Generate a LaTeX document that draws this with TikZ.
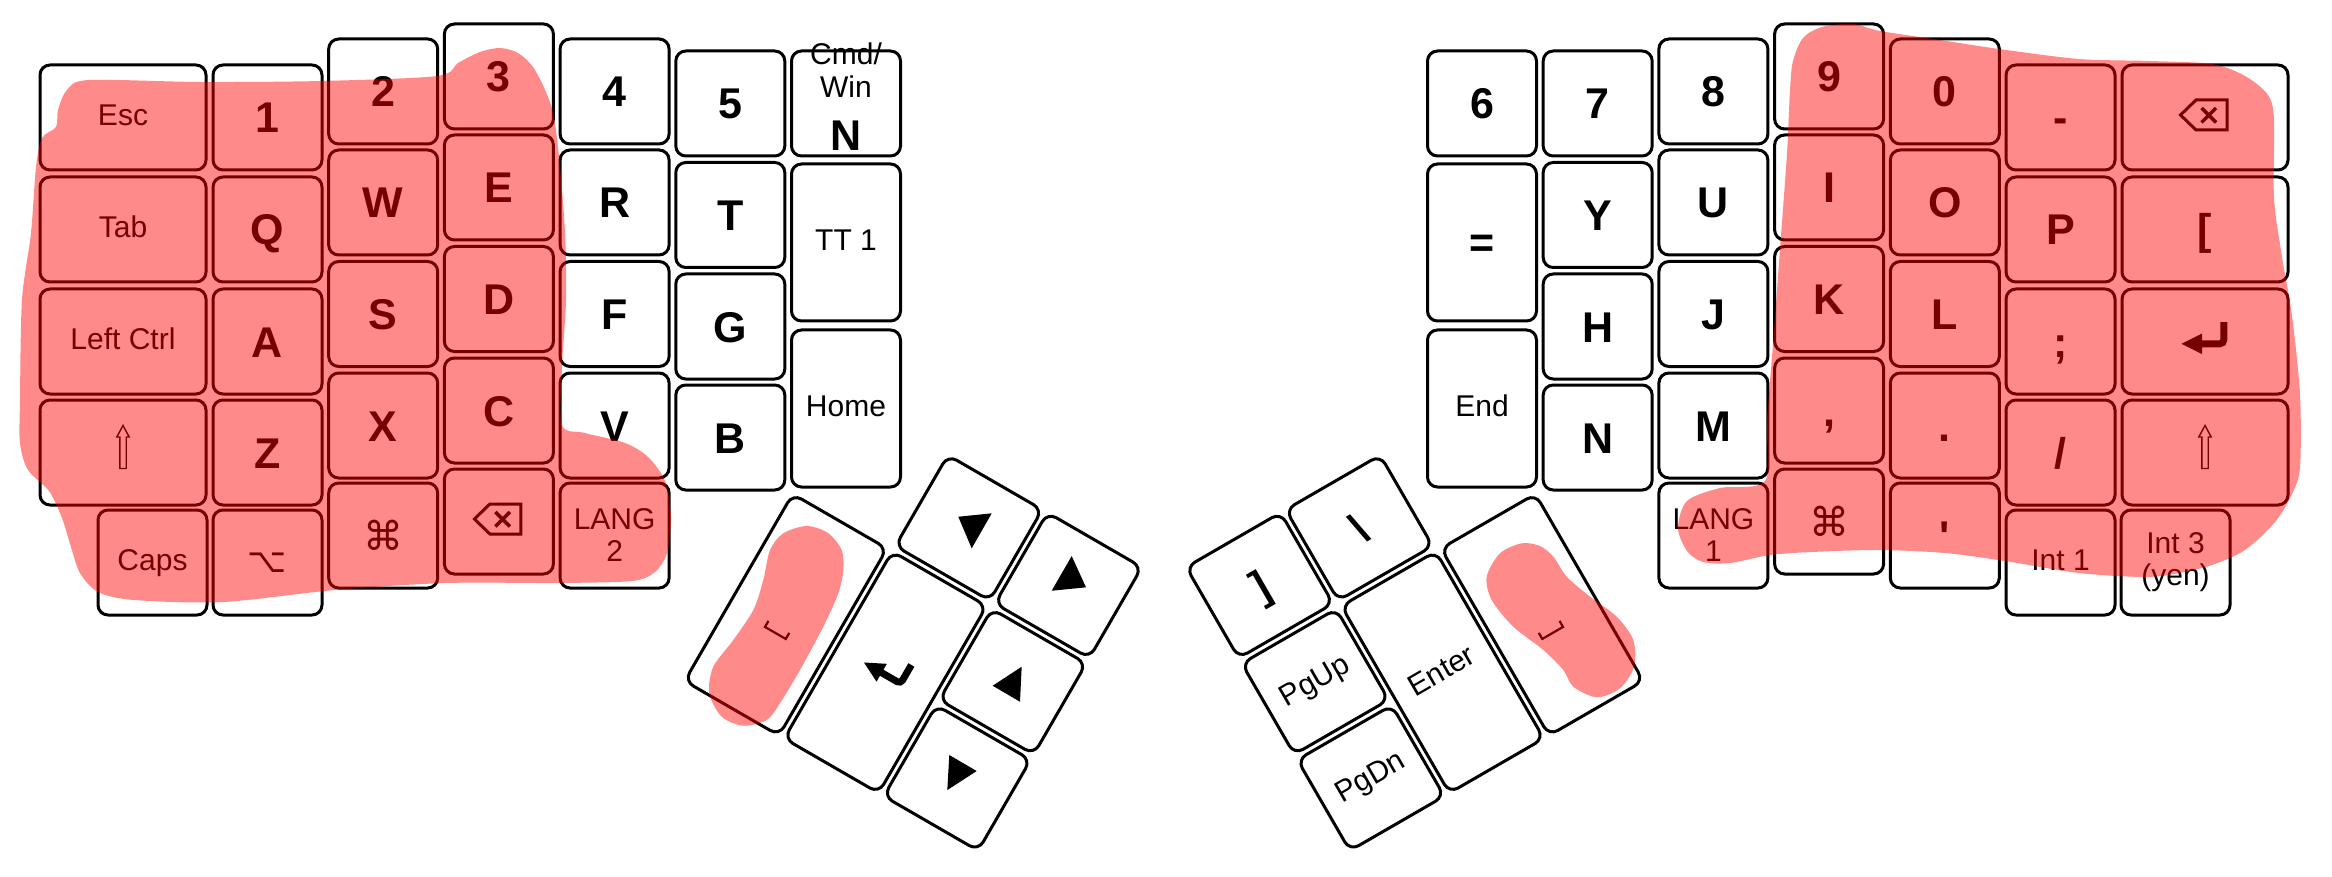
\documentclass[tikz,border=0pt]{standalone}
\usepackage{fontspec}
\setmainfont{Liberation Sans}
\newfontfamily\symf{DejaVu Sans}
\newcommand{\kbig}{\fontsize{43}{48}\selectfont\bfseries}
\newcommand{\ksmall}{\fontsize{30}{32}\selectfont}
\newcommand{\ksym}{\symf\fontsize{40}{44}\selectfont}
\newcommand{\kalt}{\symf\fontsize{34}{38}\selectfont}
\begin{document}
\begin{tikzpicture}[x=1pt,y=-1pt,
  key/.style={draw=black, fill=white, line width=3pt, rounded corners=10pt,
    minimum width=109pt, minimum height=105pt, inner sep=0pt},
  big/.style={font=\kbig, text height=31pt, text depth=0pt},
  sm/.style={font=\ksmall, text height=16pt, text depth=0pt},
  two/.style={font=\ksmall, align=center},
  sym/.style={font=\ksym},
  altsym/.style={font=\kalt},
  wide/.style={minimum width=166pt},
  tall/.style={minimum height=157pt},
  thumbkey/.style={minimum height=216pt},
  blob/.style={fill=red, fill opacity=0.46, draw=none},
  bksp/.pic={
    \draw[line width=3pt, line join=miter] (-24.5,-2.5) -- (-9,-17.5) -- (22,-17.5) -- (22,12.5) -- (-9,12.5) -- cycle;
    \draw[line width=3.5pt] (-3.5,-9.5) -- (11,5) (-3.5,5) -- (11,-9.5);
  },
  entericon/.pic={
    \draw[line width=7pt, rounded corners=4pt] (18.8,-19.3) -- (18.8,2.3) -- (-5,2.3);
    \fill (-23.5,2.3) -- (-3,-8) -- (-3,12.6) -- cycle;
  },
  shifticon/.pic={
    \draw[line width=1.4pt, line join=miter] (0,-27) -- (6.2,-15.5) -- (3.2,-15.5) -- (3.2,16) -- (-3.2,16) -- (-3.2,-15.5) -- (-6.2,-15.5) -- cycle;
  },
  spaceicon/.pic={
    \draw[line width=2.2pt] (-12,14) -- (-12,21) -- (12,21) -- (12,14);
  }
]
\useasboundingbox (0,0) rectangle (2332,877);
\fill[white] (0,0) rectangle (2332,877);

% ---------------- left half ----------------
\node[key,wide,sm] (kesc) at (123,117.5) {Esc};
\node[key,wide,sm] (ktab) at (123,229.5) {Tab};
\node[key,wide,sm] (klctrl) at (123,341.5) {Left Ctrl};
\node[key,wide] (klshift) at (123,452.5) {};
\node[key,sm] (kcaps) at (152.5,562.5) {Caps};
\node[key,big] (k1) at (267.5,117.5) {1};
\node[key,big] (kq) at (267.5,229.5) {Q};
\node[key,big] (ka) at (267.5,341.5) {A};
\node[key,big] (kz) at (267.5,452.5) {Z};
\node[key,altsym] (kalt) at (267.5,562.5) {⌥};
\node[key,big] (k2) at (383.2,91.5) {2};
\node[key,big] (kw) at (383.2,202.5) {W};
\node[key,big] (ks) at (383.2,314) {S};
\node[key,big] (kx) at (383.2,425.5) {X};
\node[key,sym] (klcmd) at (383.2,535.5) {⌘};
\node[key,big] (k3) at (498.9,76.5) {3};
\node[key,big] (ke) at (498.9,187.5) {E};
\node[key,big] (kd) at (498.9,299) {D};
\node[key,big] (kc) at (498.9,410.5) {C};
\node[key] (klbksp) at (498.9,521.5) {};
\node[key,big] (k4) at (614.6,91.5) {4};
\node[key,big] (kr) at (614.6,202.5) {R};
\node[key,big] (kf) at (614.6,314) {F};
\node[key,big] (kv) at (614.6,425.5) {V};
\node[key,two] (klang2) at (614.6,535.5) {LANG\\2};
\node[key,big] (k5) at (730.3,103.5) {5};
\node[key,big] (kt) at (730.3,215) {T};
\node[key,big] (kg) at (730.3,326.5) {G};
\node[key,big] (kb) at (730.3,437.5) {B};
\node[key] (kcmdwin) at (846,103.5) {};
\node[key,tall,sm] (ktt) at (846,242.5) {TT 1};
\node[key,tall,sm] (khome) at (846,408.5) {Home};
\node[font=\ksmall, anchor=base] (tcmd) at (846,65) {Cmd/};
\node[font=\ksmall, anchor=base] (twin) at (846,98) {Win};
\node[font=\kbig, anchor=base] (tn) at (846,151) {N};

\pic at (klshift.center) {shifticon};
\pic at (klbksp.center) {bksp};

% ---------------- right half ----------------
\node[key,wide] (krbksp) at (2205,117.5) {};
\node[key,wide,big] (klbrack) at (2205,229.5) {[};
\node[key,wide] (krenter) at (2205,341.5) {};
\node[key,wide] (krshift) at (2205,452.5) {};
\node[key,two] (kint3) at (2175.5,562.5) {Int 3\\(yen)};
\node[key,big] (kminus) at (2060.5,117.5) {-};
\node[key,big] (kp) at (2060.5,229.5) {P};
\node[key,big] (ksemi) at (2060.5,341.5) {;};
\node[key,big] (kslash) at (2060.5,452.5) {/};
\node[key,sm] (kint1) at (2060.5,562.5) {Int 1};
\node[key,big] (k0) at (1944.8,91.5) {0};
\node[key,big] (ko) at (1944.8,202.5) {O};
\node[key,big] (kl) at (1944.8,314) {L};
\node[key,big] (kdot) at (1944.8,425.5) {.};
\node[key,big] (kquote) at (1944.8,535.5) {\textquotesingle};
\node[key,big] (k9) at (1829.1,76.5) {9};
\node[key,big] (ki) at (1829.1,187.5) {I};
\node[key,big] (kk) at (1829.1,299) {K};
\node[key,big] (kcomma) at (1829.1,410.5) {,};
\node[key,sym] (krcmd) at (1829.1,521.5) {⌘};
\node[key,big] (k8) at (1713.4,91.5) {8};
\node[key,big] (ku) at (1713.4,202.5) {U};
\node[key,big] (kj) at (1713.4,314) {J};
\node[key,big] (km) at (1713.4,425.5) {M};
\node[key,two] (klang1) at (1713.4,535.5) {LANG\\1};
\node[key,big] (k7) at (1597.7,103.5) {7};
\node[key,big] (ky) at (1597.7,215) {Y};
\node[key,big] (kh) at (1597.7,326.5) {H};
\node[key,big] (kn) at (1597.7,437.5) {N};
\node[key,big] (k6) at (1482,103.5) {6};
\node[key,tall,big] (keq) at (1482,242.5) {=};
\node[key,tall,sm] (kend) at (1482,408.5) {End};

\pic at (krbksp.center) {bksp};
\pic at (krenter.center) {entericon};
\pic at (krshift.center) {shifticon};

% ---------------- left thumb cluster ----------------
\begin{scope}[shift={(785.85,614.75)}, rotate=-30, transform shape]
  \node[key,thumbkey] (tlspace) at (0,0) {};
  \node[key,thumbkey] (tlenter) at (115,0) {};
  \node[key] (tldown) at (115,-166.7) {};
  \node[key] (tlup) at (230,-166.7) {};
  \node[key] (tlleft) at (230,-55.5) {};
  \node[key] (tlright) at (230,55.7) {};
  \pic at (0,0) {spaceicon};
  \pic at (115,0) {entericon};
\end{scope}
\fill[shift={(tldown.center)}] (-10.5,-11.15) -- (22.9,-14.55) -- (2.9,20.45) -- cycle;
\fill[shift={(tlup.center)}] (3.3,-29.35) -- (-16.7,5.35) -- (17.6,1.95) -- cycle;
\fill[shift={(tlleft.center)}] (8.9,-14.95) -- (-20.1,4.05) -- (7.2,20.05) -- cycle;
\fill[shift={(tlright.center)}] (-7.9,-22.95) -- (19.5,-6.95) -- (-9.9,12.05) -- cycle;

% ---------------- right thumb cluster ----------------
\begin{scope}[shift={(1542.15,614.75)}, rotate=30, transform shape]
  \node[key,thumbkey] (trspace) at (0,0) {};
  \node[key,thumbkey,sm] (trenter) at (-115,0) {Enter};
  \node[key,big] (trbslash) at (-115,-166.7) {\textbackslash};
  \node[key,big] (trbrack) at (-230,-166.7) {]};
  \node[key,sm] (trpgup) at (-230,-55.5) {PgUp};
  \node[key,sm] (trpgdn) at (-230,55.7) {PgDn};
  \pic at (0,0) {spaceicon};
\end{scope}

% ---------------- highlight blobs ----------------
\fill[blob] plot[smooth cycle, tension=0.5] coordinates {
  (58,110) (67,90) (89,80) (200,82) (321,81) (437,76) (458,63) (480,52) (500,48)
  (518,53) (533,67) (546,92) (554,117) (560,167) (565,233) (566,300) (562,367)
  (562,425) (585,433) (625,443) (648,457) (665,481) (671,517) (667,553) (655,572)
  (632,581) (558,583) (446,583) (335,590) (223,602) (134,600) (98,592) (80,573)
  (71,547) (62,518) (49,491) (28,470) (20,443) (20,400) (22,300) (31,233) (36,167)
  (42,138) (56,127)};
\fill[blob] plot[smooth cycle, tension=0.5] coordinates {
  (1793,61) (1803,38) (1822,27) (1853,24) (1880,31) (1940,40) (1999,49) (2079,59)
  (2150,61) (2212,64) (2245,76) (2268,95) (2274,120) (2274,198) (2282,257) (2292,316)
  (2300,395) (2300,467) (2292,494) (2275,522) (2245,550) (2212,565) (2179,573)
  (2145,577) (2079,573) (2005,561) (1945,553) (1879,550) (1812,552) (1770,555)
  (1730,563) (1703,562) (1687,551) (1678,528) (1687,501) (1720,488) (1765,481)
  (1767,421) (1773,344) (1780,249) (1787,153) (1790,90)};
\fill[blob] plot[smooth cycle, tension=0.5] coordinates {
  (806.7,526) (828,533) (841.7,550) (843.3,570) (838.3,593.3) (823.3,626.7) (800,670)
  (780,703.3) (766.7,720) (743.3,725.7) (721.7,716.7) (709.3,693.3) (713.3,666.7)
  (733.3,640) (753.3,610) (763.3,580) (770,550) (783.3,533.3)};
\fill[blob] plot[smooth cycle, tension=0.5] coordinates {
  (1521.7,543.3) (1500,553.3) (1486.7,576.7) (1491.7,600) (1513.3,626.7) (1543.3,650)
  (1563.3,670) (1573.3,686.7) (1596.7,697.3) (1620,688.3) (1634,666.7) (1633.3,640)
  (1616.7,616.7) (1590,596.7) (1566.7,576.7) (1553.3,556.7) (1540,546)};
\end{tikzpicture}
\end{document}
